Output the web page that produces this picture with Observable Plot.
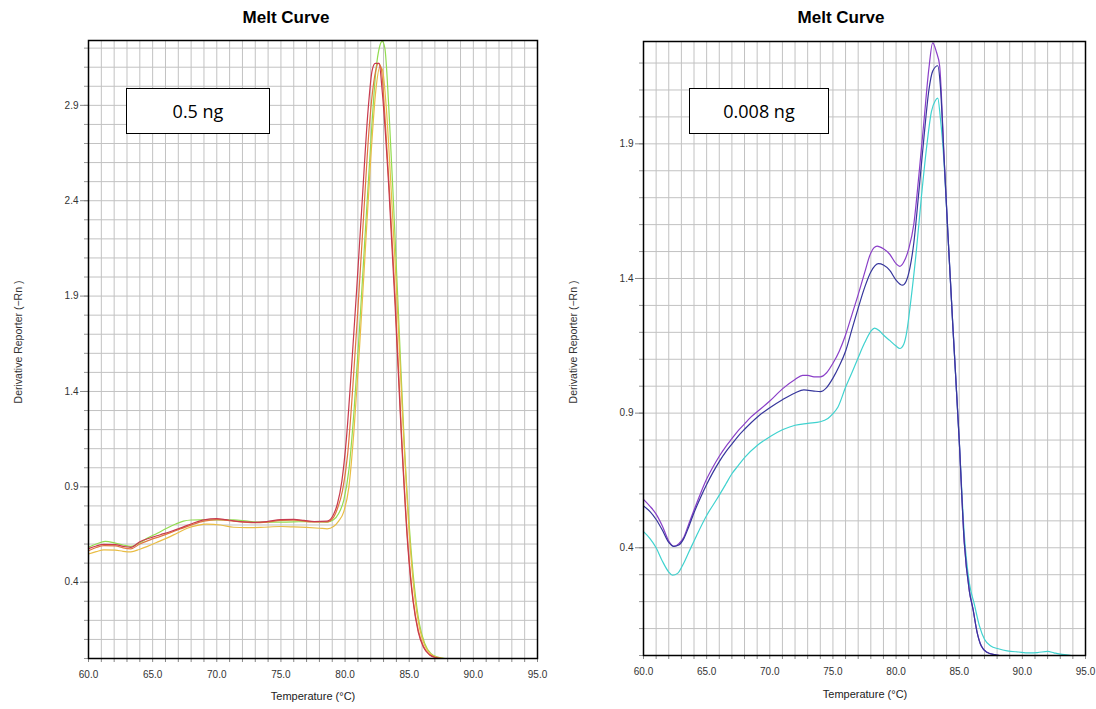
<!DOCTYPE html>
<html><head><meta charset="utf-8">
<script src="https://cdn.jsdelivr.net/npm/d3@7"></script>
<script src="https://cdn.jsdelivr.net/npm/@observablehq/plot@0.6"></script>
<style>
body{margin:0;background:#fff;width:1096px;height:709px;overflow:hidden;position:relative;font-family:"Liberation Sans",Arial,sans-serif}
.abs{position:absolute}
.title{font-weight:bold;font-size:17px;color:#000;transform:translateX(-50%);white-space:nowrap}
.box{border:1px solid #000;background:#fff;font-family:"Open Sans",sans-serif;font-size:18px;display:flex;align-items:center;justify-content:center;box-sizing:border-box;color:#000}
.ylab{font-size:10.5px;color:#333;transform:translate(-50%,-50%) rotate(-90deg);white-space:nowrap}
.xlab{font-size:11px;color:#222;transform:translateX(-50%);white-space:nowrap}
</style></head><body>
<div id="left" class="abs" style="left:0;top:0"></div>
<div id="right" class="abs" style="left:560px;top:0"></div>
<div class="abs title" style="left:286px;top:8px">Melt Curve</div>
<div class="abs title" style="left:841px;top:8px">Melt Curve</div>
<div class="abs box" style="left:126px;top:88px;width:144px;height:46px">0.5 ng</div>
<div class="abs box" style="left:689px;top:88px;width:140px;height:46px">0.008 ng</div>
<div class="abs ylab" style="left:18px;top:342px">Derivative Reporter (−Rn )</div>
<div class="abs ylab" style="left:573px;top:342px">Derivative Reporter (−Rn )</div>
<div class="abs xlab" style="left:313px;top:690px">Temperature (°C)</div>
<div class="abs xlab" style="left:865px;top:688px">Temperature (°C)</div>
<script>
// ---- tick labels ----
const xTicks = [60, 65, 70, 75, 80, 85, 90, 95];
const yTicksLeft = [0.4, 0.9, 1.4, 1.9, 2.4, 2.9];
const yTicksRight = [0.4, 0.9, 1.4, 1.9];

// ---- 0.5 ng series [temperature, derivative] ----
const red05 = [[60,0.576],[60.6,0.59],[61.2,0.598],[62.1,0.597],[62.7,0.588],[63.3,0.583],[64,0.612],[64.8,0.632],[65.6,0.649],[66.4,0.666],[67.2,0.685],[68.1,0.708],[69,0.727],[70,0.733],[70.7,0.728],[71.3,0.722],[72.1,0.716],[72.9,0.714],[73.9,0.718],[75,0.728],[76,0.729],[76.8,0.724],[77.6,0.718],[78.6,0.72],[79.1,0.755],[79.4,0.81],[79.75,0.93],[80.1,1.15],[80.5,1.52],[80.9,1.93],[81.3,2.36],[81.8,2.88],[82.1,3.08],[82.35,3.12],[82.65,3.12],[82.9,2.97],[83.4,2.48],[83.9,1.85],[84.4,1.15],[84.9,0.58],[85.3,0.3],[85.7,0.14],[86.1,0.06],[86.6,0.018],[87.1,0.004],[87.5,0]];
const orange05 = [[60,0.565],[60.6,0.582],[61.2,0.592],[62.1,0.59],[62.7,0.58],[63.3,0.575],[64,0.6],[64.8,0.622],[65.6,0.64],[66.4,0.66],[67.2,0.68],[68.1,0.702],[69,0.72],[70,0.728],[71.3,0.72],[72.9,0.712],[73.9,0.715],[75,0.724],[76,0.725],[77.6,0.716],[78.6,0.716],[79.1,0.74],[79.4,0.785],[79.8,0.88],[80.2,1.07],[80.6,1.42],[81.0,1.83],[81.4,2.27],[81.9,2.8],[82.3,3.05],[82.6,3.12],[82.8,3.1],[83.1,2.85],[83.5,2.4],[83.9,1.9],[84.4,1.18],[84.9,0.6],[85.3,0.31],[85.7,0.15],[86.1,0.065],[86.6,0.02],[87.1,0.005],[87.5,0]];
const gold05 = [[60,0.548],[60.6,0.56],[61.2,0.57],[62.1,0.568],[62.7,0.562],[63.3,0.559],[64,0.573],[64.6,0.588],[65.3,0.608],[66.1,0.631],[66.9,0.657],[67.7,0.683],[68.5,0.698],[69.2,0.704],[70.3,0.7],[71.3,0.688],[72.3,0.686],[73.4,0.687],[75,0.692],[76,0.69],[77,0.687],[78,0.683],[78.6,0.68],[79.1,0.692],[79.5,0.72],[79.9,0.77],[80.3,0.9],[80.7,1.2],[81.1,1.6],[81.5,2.05],[82.0,2.62],[82.4,2.98],[82.7,3.1],[82.9,3.09],[83.2,2.9],[83.6,2.45],[84.0,1.95],[84.5,1.25],[85.0,0.66],[85.4,0.34],[85.8,0.16],[86.2,0.07],[86.7,0.022],[87.2,0.006],[87.7,0]];
const green05 = [[60,0.583],[60.6,0.6],[61.3,0.614],[62.1,0.605],[62.7,0.595],[63.3,0.588],[64,0.607],[64.6,0.631],[65.4,0.658],[66.1,0.683],[66.8,0.705],[67.4,0.72],[68,0.726],[68.7,0.727],[70,0.727],[71.3,0.727],[72.4,0.72],[73.4,0.715],[75,0.715],[76,0.716],[77,0.718],[78,0.716],[78.6,0.715],[79.1,0.727],[79.5,0.76],[79.9,0.83],[80.3,0.99],[80.7,1.3],[81.1,1.7],[81.5,2.15],[82.0,2.7],[82.4,3.08],[82.7,3.21],[82.9,3.235],[83.1,3.2],[83.4,2.9],[83.8,2.35],[84.2,1.75],[84.6,1.15],[85.0,0.7],[85.4,0.38],[85.8,0.18],[86.2,0.08],[86.7,0.025],[87.2,0.008],[87.8,0]];

// ---- 0.008 ng series ----
const purple008 = [[60,0.58],[60.5,0.555],[61,0.525],[61.5,0.48],[62,0.425],[62.4,0.405],[62.8,0.415],[63.2,0.44],[63.6,0.49],[64,0.54],[64.5,0.6],[65,0.655],[65.5,0.7],[66,0.74],[66.5,0.775],[67,0.805],[67.5,0.835],[68,0.86],[68.5,0.885],[69,0.905],[70,0.945],[71,0.99],[72,1.025],[72.6,1.04],[73,1.04],[73.5,1.035],[74,1.035],[74.5,1.05],[75,1.085],[75.5,1.13],[76,1.19],[76.5,1.265],[77,1.34],[77.5,1.42],[78,1.495],[78.5,1.52],[79,1.51],[79.5,1.49],[80,1.455],[80.3,1.445],[80.6,1.46],[81,1.51],[81.4,1.6],[81.8,1.78],[82.2,1.98],[82.6,2.18],[82.9,2.275],[83.2,2.24],[83.45,2.19],[83.8,1.85],[84.1,1.57],[84.5,1.22],[85,0.8],[85.4,0.42],[85.8,0.24],[86.1,0.17],[86.4,0.09],[86.75,0.035],[87.2,0.012],[87.8,0.003],[88.2,0]];
const navy008 = [[60,0.555],[60.5,0.535],[61,0.505],[61.5,0.465],[62,0.42],[62.4,0.405],[62.8,0.41],[63.2,0.435],[63.6,0.48],[64,0.53],[64.5,0.585],[65,0.635],[65.5,0.68],[66,0.72],[66.5,0.755],[67,0.785],[67.5,0.815],[68,0.84],[69,0.885],[70,0.92],[71,0.95],[72,0.975],[72.7,0.986],[73.5,0.982],[74,0.98],[74.5,0.995],[75,1.03],[75.5,1.075],[76,1.13],[76.5,1.21],[77,1.29],[77.5,1.365],[78,1.424],[78.6,1.455],[79,1.45],[79.5,1.43],[80,1.394],[80.5,1.375],[80.8,1.39],[81.1,1.44],[81.4,1.53],[81.8,1.72],[82.2,1.92],[82.6,2.1],[82.9,2.17],[83.3,2.19],[83.5,2.12],[83.8,1.85],[84.1,1.57],[84.5,1.22],[85,0.8],[85.4,0.42],[85.8,0.24],[86.1,0.17],[86.4,0.09],[86.75,0.035],[87.2,0.012],[87.8,0.003],[88.2,0]];
const cyan008 = [[60,0.46],[60.5,0.435],[61,0.4],[61.5,0.35],[62,0.31],[62.3,0.298],[62.7,0.305],[63.1,0.335],[63.6,0.385],[64.2,0.445],[65,0.52],[65.8,0.58],[66.5,0.635],[67,0.675],[67.5,0.705],[68,0.735],[69,0.78],[70,0.812],[71,0.838],[72,0.855],[73,0.862],[74,0.868],[74.6,0.88],[75,0.898],[75.4,0.923],[76,0.996],[76.5,1.05],[77,1.106],[77.5,1.16],[78,1.204],[78.3,1.216],[78.7,1.205],[79,1.19],[79.5,1.17],[80,1.149],[80.3,1.14],[80.6,1.155],[80.8,1.19],[81.2,1.33],[81.6,1.5],[82,1.7],[82.4,1.88],[82.8,2.02],[83.1,2.06],[83.3,2.07],[83.5,2.0],[83.8,1.83],[84.1,1.57],[84.5,1.22],[85,0.8],[85.4,0.45],[85.8,0.27],[86.2,0.19],[86.6,0.11],[87,0.06],[87.5,0.035],[88.1,0.025],[88.8,0.017],[89.7,0.013],[90.5,0.01],[91.2,0.011],[92,0.015],[92.5,0.01],[92.9,0.006],[93.5,0.002],[93.9,0]];

function chart({series, yMax, yTicks, width, height, mL, mR, mT, mB}) {
  const minorY = d3.range(1, Math.floor(yMax * 10 + 1e-6) + 1).map(i => i / 10);
  const marks = [
    Plot.ruleX(d3.range(61, 95), {stroke: "#c2c2c2", strokeWidth: 1}),
    Plot.ruleY(minorY, {stroke: "#c2c2c2", strokeWidth: 1}),
    Plot.axisX(d3.range(60, 96), {tickSize: 4, tickFormat: () => "", stroke: "#888", label: null}),
    Plot.axisX(xTicks, {tickSize: 0, tickPadding: 12, tickFormat: d => d.toFixed(1), fontSize: 10, fill: "#333", label: null}),
    Plot.axisY([0, ...minorY], {tickSize: 4, tickFormat: () => "", stroke: "#999", label: null}),
    Plot.axisY(yTicks, {tickSize: 8, tickPadding: 2, tickFormat: d => d.toFixed(1), fontSize: 10, fill: "#333", stroke: "#888", label: null})
  ];
  for (const [pts, color] of series) {
    marks.push(Plot.line(pts, {x: d => d[0], y: d => d[1], stroke: color, strokeWidth: 1.2, curve: "monotone-x"}));
  }
  marks.push(Plot.frame({stroke: "#000", strokeWidth: 1.5}));
  return Plot.plot({
    width, height, marginLeft: mL, marginRight: mR, marginTop: mT, marginBottom: mB,
    x: {domain: [60, 95]}, y: {domain: [0, yMax]},
    style: {background: "transparent", fontFamily: "Liberation Sans, Arial, sans-serif", fontSize: "10px", overflow: "visible"},
    marks
  });
}

document.getElementById("left").append(chart({
  series: [[green05, "#92dc50"], [gold05, "#e9bd45"], [orange05, "#e0783e"], [red05, "#c83a4e"]],
  yMax: 3.24, yTicks: yTicksLeft, width: 560, height: 709, mL: 88, mR: 23, mT: 40, mB: 51
}));
document.getElementById("right").append(chart({
  series: [[cyan008, "#3fd2cf"], [purple008, "#8a3fc8"], [navy008, "#36369c"]],
  yMax: 2.28, yTicks: yTicksRight, width: 536, height: 709, mL: 83, mR: 11, mT: 41, mB: 54
}));
</script>
</body></html>
